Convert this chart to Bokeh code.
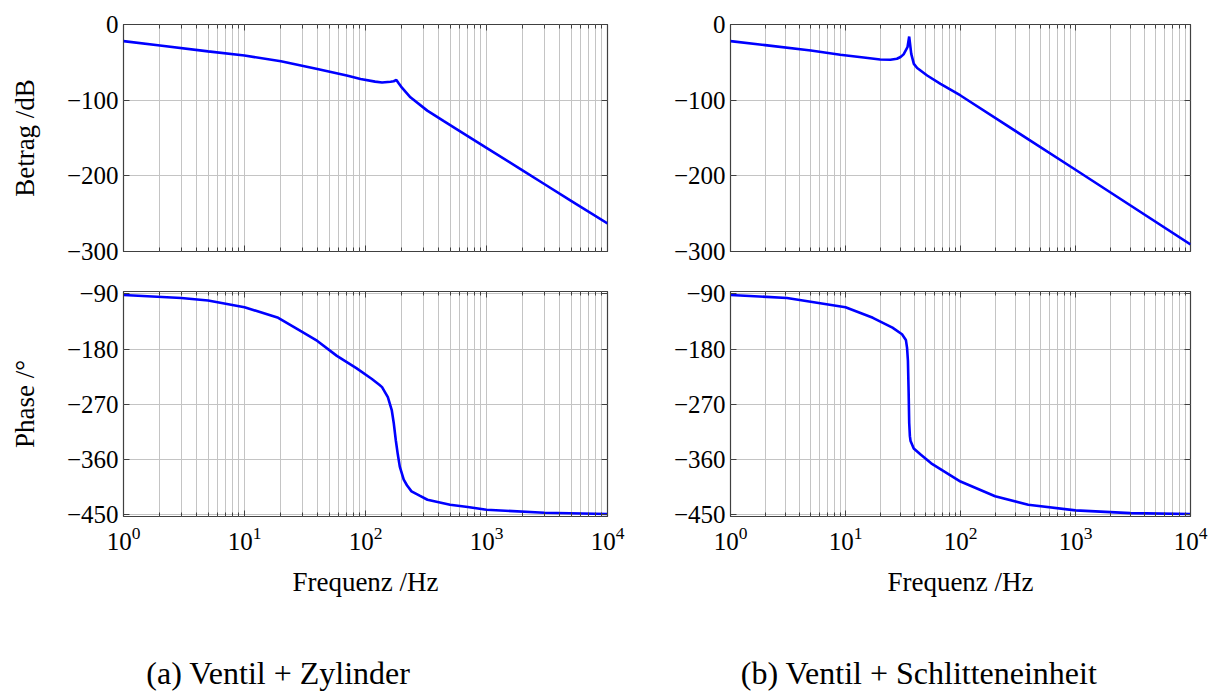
from bokeh.plotting import figure
from bokeh.models import Range1d, LogAxis, LinearAxis, FixedTicker
from bokeh.layouts import row, column
from bokeh.embed import file_html
from bokeh.resources import INLINE
from bokeh.core.properties import value

# ---------------- data ----------------
# (a) Ventil + Zylinder : magnitude
freq_a_mag = [1, 2, 5, 10, 20, 40, 70, 91, 120, 137, 161, 171, 180, 188, 200,
              235, 324, 444, 610, 1000, 2000, 3000, 5000, 10000]
mag_a = [-22, -27.7, -35.5, -41, -48.5, -58.7, -67.5, -71.9, -75.5, -76.7, -75.6, -75, -73.2, -77.5, -83.5,
         -96.2, -113.8, -127.8, -141.6, -163, -193.2, -210.8, -233, -263]
# (a) Ventil + Zylinder : phase
freq_a_ph = [1, 3, 5, 10, 19, 29, 40, 58, 84, 113, 130, 137, 153, 165, 171, 178, 185, 192,
             207, 220, 240, 280, 325, 500, 700, 1000, 3000, 10000]
ph_a = [-91.6, -96.5, -100.8, -111.6, -128.9, -150.4, -166.6, -191, -211, -228.7, -238, -242, -258.4, -280,
        -300, -328.6, -352, -371.7, -393, -402, -412, -419, -425.7, -433.8, -437.5, -442, -447, -449]
# (b) Ventil + Schlitteneinheit : magnitude
freq_b_mag = [1, 2, 5, 9, 15, 20, 24.6, 28, 30.1, 32, 34.6, 35.8, 37.3, 39.3, 42, 51.3, 67,
              100, 1000, 10000]
mag_b = [-22, -27.3, -34.3, -40, -44, -46.3, -46.5, -45.3, -43, -39.5, -30, -15.9, -38.8, -52, -57.5, -67.4, -78.4,
         -93.8, -192, -290.7]
# (b) Ventil + Schlitteneinheit : phase
freq_b_ph = [1, 3.1, 10, 17.3, 25.6, 31, 33.5, 34.3, 34.9, 35.4, 35.8, 36.3, 36.8, 39.2, 45, 55.6,
             100, 200, 388, 1000, 3000, 10000]
ph_b = [-91.6, -96.5, -111.6, -128.9, -145, -155.8, -165, -178, -199, -250, -300, -322, -330, -342, -352, -366.3,
        -396, -420, -433.8, -443, -447.5, -449]

x_major = [1, 10, 100, 1000, 10000]
x_minor = [m * d for d in [1, 10, 100, 1000] for m in range(2, 10)]
mag_ticks = [-300, -200, -100, 0]
phase_ticks = [-450, -360, -270, -180, -90]

captions = ["(a) Ventil + Zylinder", "(b) Ventil + Schlitteneinheit"]

FONT = "Liberation Serif"
FRAME = "#404040"
GRID = "#c4c4c4"
LINE = "#0000ff"


def minus(v):
    return str(v).replace("-", "\u2212")


def hide_labels(ax):
    ax.major_label_text_font_size = "1px"
    ax.major_label_text_alpha = 0
    ax.major_label_standoff = 0


def make(ylim, yticks, ylabel, fw, fh, bl, br, bt, bb, xlabels, xdata, ydata):
    p = figure(x_axis_type="log", x_range=Range1d(1, 1e4), y_range=Range1d(*ylim),
               frame_width=fw, frame_height=fh,
               min_border_left=bl, min_border_right=br, min_border_top=bt, min_border_bottom=bb,
               toolbar_location=None, output_backend="svg",
               background_fill_color="white", border_fill_color="white")
    p.outline_line_color = FRAME
    p.outline_line_width = 1.2
    p.outline_line_alpha = 1.0

    xt = FixedTicker(ticks=x_major, minor_ticks=x_minor)
    yt = FixedTicker(ticks=yticks, minor_ticks=[])

    ax_top = LogAxis()
    ax_right = LinearAxis()
    p.add_layout(ax_top, "above")
    p.add_layout(ax_right, "right")

    for ax in p.xaxis:
        ax.ticker = xt
        ax.major_tick_in = 6
        ax.major_tick_out = 0
        ax.minor_tick_in = 4
        ax.minor_tick_out = 0
        ax.major_tick_line_color = FRAME
        ax.minor_tick_line_color = FRAME
        ax.axis_line_color = None
        ax.major_label_text_font = FONT
        ax.major_label_text_font_size = "25px"
        ax.major_label_text_color = "black"
        ax.major_label_standoff = 10
    for ax in p.yaxis:
        ax.ticker = yt
        ax.major_tick_in = 6
        ax.major_tick_out = 0
        ax.minor_tick_line_color = None
        ax.major_tick_line_color = FRAME
        ax.axis_line_color = None
        ax.major_label_text_font = FONT
        ax.major_label_text_font_size = "25px"
        ax.major_label_text_color = "black"
        ax.major_label_standoff = 5
        ax.major_label_overrides = {float(t): minus(t) for t in yticks}

    hide_labels(ax_top)
    hide_labels(ax_right)
    if not xlabels:
        hide_labels(p.below[0])
    else:
        p.below[0].axis_label = "Frequenz /Hz"
        p.below[0].axis_label_text_font = FONT
        p.below[0].axis_label_text_font_size = "27px"
        p.below[0].axis_label_text_font_style = "normal"
        p.below[0].axis_label_text_color = "black"
        p.below[0].axis_label_standoff = 14
    if ylabel:
        p.left[0].axis_label = ylabel
        p.left[0].axis_label_text_font = FONT
        p.left[0].axis_label_text_font_size = "27px"
        p.left[0].axis_label_text_font_style = "normal"
        p.left[0].axis_label_text_color = "black"
        p.left[0].axis_label_standoff = 24

    p.xgrid.grid_line_color = GRID
    p.xgrid.grid_line_width = 1
    p.xgrid.minor_grid_line_color = GRID
    p.xgrid.minor_grid_line_width = 1
    p.ygrid.grid_line_color = GRID
    p.ygrid.grid_line_width = 1

    p.line(xdata, ydata, line_color=LINE, line_width=2.6)
    return p


def caption_fig(text, w, xfrac):
    # the column layout aligns this figure's frame with the plot frames above it
    c = figure(width=w, height=70, x_range=Range1d(0, 1), y_range=Range1d(0, 1),
               min_border=0, toolbar_location=None, output_backend="svg",
               x_axis_location=None, y_axis_location=None,
               background_fill_color="white", border_fill_color="white")
    c.outline_line_color = None
    c.xgrid.visible = False
    c.ygrid.visible = False
    c.text(x=[xfrac], y=[0.34], text=[text], text_align="center", text_baseline="middle",
           text_font=value(FONT), text_font_size="32px", text_color="black")
    return c


p1 = make((-300, 0), mag_ticks, "Betrag /dB", 484, 227, 123, 33, 24, 20, False, freq_a_mag, mag_a)
p3 = make((-453, -86), phase_ticks, "Phase /°", 484, 225, 123, 33, 20, 110, True, freq_a_ph, ph_a)
p2 = make((-300, 0), mag_ticks, None, 460, 227, 90, 20, 24, 20, False, freq_b_mag, mag_b)
p4 = make((-453, -86), phase_ticks, None, 460, 225, 90, 20, 20, 110, True, freq_b_ph, ph_b)

c1 = caption_fig(captions[0], 640, 0.320)
c2 = caption_fig(captions[1], 570, 0.410)

layout = row(column(p1, p3, c1), column(p2, p4, c2))

open("out.html", "w").write(file_html(layout, INLINE))
